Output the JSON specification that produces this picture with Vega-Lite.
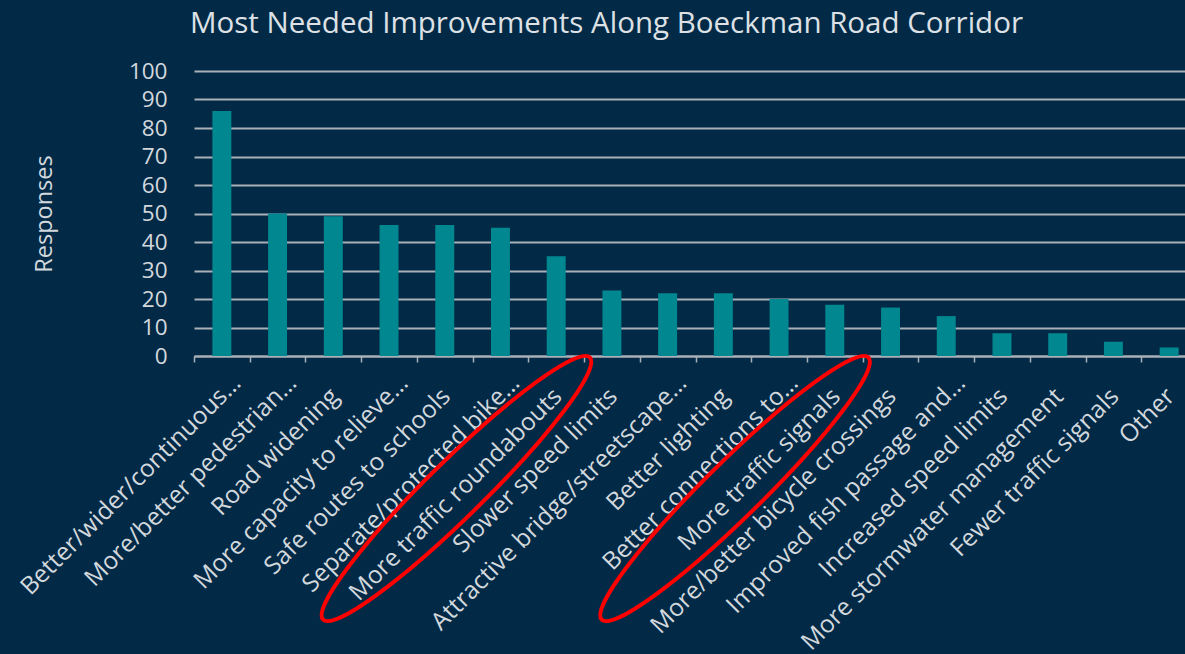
{
  "$schema": "https://vega.github.io/schema/vega-lite/v6.json",
  "autosize": {"type": "none"},
  "padding": {"left": 194, "top": 71, "right": 0, "bottom": 298},
  "width": 991,
  "height": 285,
  "background": "#022a47",
  "config": {
    "view": {"stroke": null},
    "font": "Open Sans",
    "axisY": {
      "values": [0, 10, 20, 30, 40, 50, 60, 70, 80, 90, 100],
      "labelFontSize": 22.5,
      "labelColor": "#d3d8dd",
      "labelPadding": 27,
      "labelOverlap": false,
      "ticks": false,
      "domain": false,
      "grid": true,
      "gridColor": "#a9b0b8",
      "gridWidth": 2,
      "titleFontSize": 23.5,
      "titleFontWeight": "normal",
      "titleColor": "#d3d8dd",
      "titlePadding": 72
    }
  },
  "title": {
    "text": "Most Needed Improvements Along Boeckman Road Corridor",
    "anchor": "start",
    "frame": "group",
    "dx": -4,
    "offset": 21,
    "fontSize": 29.5,
    "fontWeight": "normal",
    "color": "#dde1e5",
    "font": "Open Sans"
  },
  "datasets": {
    "responses": [
      {"label": "Better/wider/continuous…", "count": 86},
      {"label": "More/better pedestrian…", "count": 50},
      {"label": "Road widening", "count": 49},
      {"label": "More capacity to relieve…", "count": 46},
      {"label": "Safe routes to schools", "count": 46},
      {"label": "Separate/protected bike…", "count": 45},
      {"label": "More traffic roundabouts", "count": 35},
      {"label": "Slower speed limits", "count": 23},
      {"label": "Attractive bridge/streetscape…", "count": 22},
      {"label": "Better lighting", "count": 22},
      {"label": "Better connections to…", "count": 20},
      {"label": "More traffic signals", "count": 18},
      {"label": "More/better bicycle crossings", "count": 17},
      {"label": "Improved fish passage and…", "count": 14},
      {"label": "Increased speed limits", "count": 8},
      {"label": "More stormwater management", "count": 8},
      {"label": "Fewer traffic signals", "count": 5},
      {"label": "Other", "count": 3}
    ],
    "highlights": [
      {"label": "More traffic roundabouts"},
      {"label": "More traffic signals"}
    ]
  },
  "layer": [
    {
      "data": {"name": "responses"},
      "mark": {"type": "bar", "color": "#00878f", "width": {"band": 0.34}},
      "encoding": {
        "x": {
          "field": "label",
          "type": "nominal",
          "sort": null,
          "scale": {"range": [0, 1003], "paddingInner": 0, "paddingOuter": 0},
          "axis": {
            "title": null,
            "labelAngle": -45,
            "labelAlign": "right",
            "labelBaseline": "middle",
            "labelPadding": 17,
            "labelOffset": 15,
            "labelExpr": "indexof(datum.label, '…') >= 0 ? datum.label : datum.label + '\u00a0\u00a0\u00a0\u200b'",
            "labelFontSize": 24.5,
            "labelColor": "#d3d8dd",
            "labelLimit": 0,
            "labelOverlap": false,
            "tickBand": "extent",
            "tickColor": "#a9b0b8",
            "tickSize": 6,
            "tickWidth": 1.5,
            "domainColor": "#a9b0b8",
            "domainWidth": 2,
            "grid": false
          }
        },
        "y": {
          "field": "count",
          "type": "quantitative",
          "scale": {"domain": [0, 100], "nice": false},
          "axis": {"title": "Responses"}
        }
      }
    },
    {
      "data": {"name": "highlights"},
      "mark": {
        "type": "point",
        "shape": "M -1 0 C -1 -0.0828 -0.5523 -0.15 0 -0.15 C 0.5523 -0.15 1 -0.0828 1 0 C 1 0.0828 0.5523 0.15 0 0.15 C -0.5523 0.15 -1 0.0828 -1 0 Z",
        "size": 139876,
        "angle": -44.5,
        "filled": false,
        "stroke": "#ff0000",
        "strokeWidth": 4,
        "opacity": 1
      },
      "encoding": {
        "x": {"field": "label", "type": "nominal", "sort": null, "bandPosition": -1.29},
        "y": {"datum": -46.5, "type": "quantitative"}
      }
    }
  ]
}
